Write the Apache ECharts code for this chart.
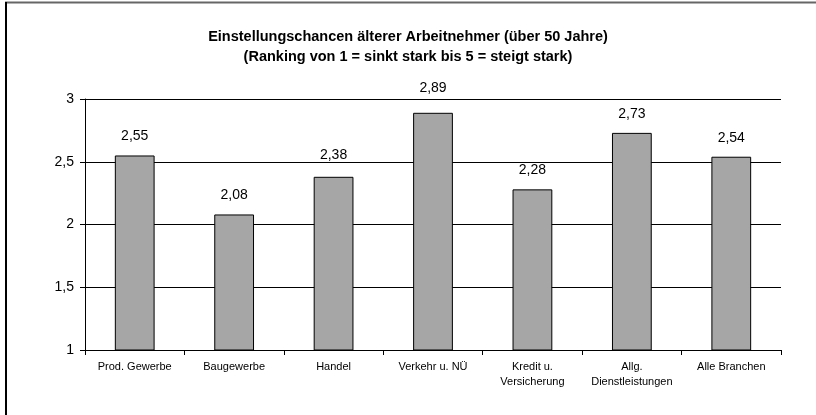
<!DOCTYPE html>
<html><head><meta charset="utf-8">
<script src="https://cdn.jsdelivr.net/npm/echarts@6/dist/echarts.min.js"></script>
<style>html,body{margin:0;padding:0;background:#fff}#c{width:816px;height:415px}</style>
</head><body><div id="c"></div>
<script>
const categories = ['Prod. Gewerbe','Baugewerbe','Handel','Verkehr u. NÜ','Kredit u.\nVersicherung','Allg.\nDienstleistungen','Alle Branchen'];
const values = [2.55, 2.08, 2.38, 2.89, 2.28, 2.73, 2.54];
const titleText = 'Einstellungschancen älterer Arbeitnehmer (über 50 Jahre)\n(Ranking von 1 = sinkt stark bis 5 = steigt stark)';
const fmt = v => String(v).replace('.', ',');
const labelDistance = [12, 12, 15, 18, 12, 12, 12];
const chart = echarts.init(document.getElementById('c'), null, {renderer:'canvas'});
chart.setOption({
  animation:false,
  backgroundColor:'#fff',
  title:{text:titleText,left:'center',top:22,textStyle:{fontFamily:'Liberation Sans, Arial',fontSize:14.5,fontWeight:'bold',color:'#000',lineHeight:20}},
  graphic:[
    {type:'line',shape:{x1:5,y1:2.5,x2:816,y2:2.5},style:{stroke:'#666',lineWidth:2},silent:true},
    {type:'line',shape:{x1:6,y1:2,x2:6,y2:415},style:{stroke:'#000',lineWidth:2},silent:true}
  ],
  grid:{left:85,right:35,top:99,bottom:65,containLabel:false},
  xAxis:{type:'category',data:categories,
    axisLine:{lineStyle:{color:'#000',width:1}},
    axisTick:{show:true,alignWithLabel:false,length:5,lineStyle:{color:'#000'}},
    axisLabel:{fontFamily:'Liberation Sans, Arial',fontSize:11,color:'#000',lineHeight:15,margin:9,interval:0}},
  yAxis:{type:'value',min:1,max:3,interval:0.5,
    axisLine:{show:true,lineStyle:{color:'#000',width:1}},
    axisTick:{show:true,length:5,lineStyle:{color:'#000'}},
    axisLabel:{fontFamily:'Liberation Sans, Arial',fontSize:14,color:'#000',margin:11,formatter:v=>fmt(v)},
    splitLine:{show:true,lineStyle:{color:'#000',width:1}}},
  series:[{type:'bar',barWidth:'40%',
    data:values.map((v,i)=>({value:v,label:{distance:labelDistance[i]}})),
    itemStyle:{color:'#a6a6a6',borderColor:'#000',borderWidth:1},
    label:{show:true,position:'top',fontFamily:'Liberation Sans, Arial',fontSize:14,color:'#000',formatter:p=>fmt(p.value)}}]
});
</script></body></html>
